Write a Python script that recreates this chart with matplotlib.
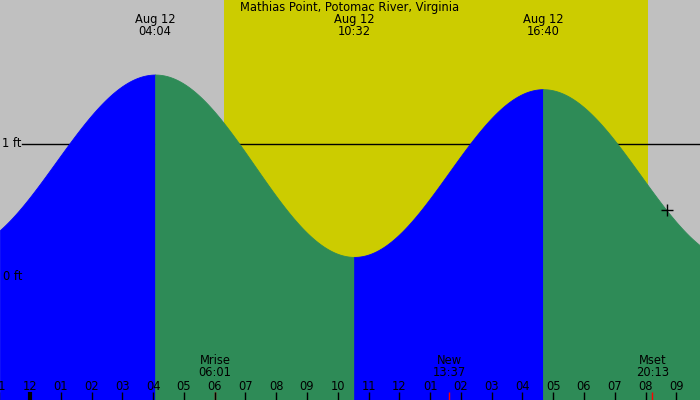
import numpy as np
import matplotlib.pyplot as plt

# tide extremes (hours after midnight Aug 12, feet); first/last are off-chart lows
tide_times = [-2.4, 4.067, 10.533, 16.667, 23.0]
tide_heights = [0.20, 1.52, 0.15, 1.41, 0.12]

sunrise = 6.30
sunset = 20.08

hour_ticks = list(range(-1, 22))
hour_labels = ["11", "12", "01", "02", "03", "04", "05", "06", "07", "08", "09", "10",
               "11", "12", "01", "02", "03", "04", "05", "06", "07", "08", "09"]

tide_labels = ["Aug 12\n04:04", "Aug 12\n10:32", "Aug 12\n16:40"]

moon_times = [6.017, 13.617, 20.217]
moon_labels = ["Mrise\n06:01", "New\n13:37", "Mset\n20:13"]

now_time = 20.7
now_height = 0.50

x0, x1 = -0.975, 21.77
y0, y1 = -0.925, 2.08

fig = plt.figure(figsize=(7, 4), dpi=100)
ax = fig.add_axes([0, 0, 1, 1])
ax.set_xlim(x0, x1)
ax.set_ylim(y0, y1)
ax.axis("off")

ax.axvspan(x0, x1, color="#c0c0c0", lw=0, zorder=0)
ax.axvspan(sunrise, sunset, color="#cccc00", lw=0, zorder=0)

# reference line sits behind the water
ax.axhline(1, xmin=22 / 700, xmax=1, color="black", lw=1, zorder=1)
ax.text(x0 + 2 / 30.77, 1, "1 ft", fontsize=8.3, ha="left", va="center", zorder=1)

# water, one piece per half cycle
for i in range(len(tide_times) - 1):
    ta, tb = tide_times[i], tide_times[i + 1]
    ha, hb = tide_heights[i], tide_heights[i + 1]
    t = np.linspace(max(ta, x0), min(tb, x1), 200)
    h = (ha + hb) / 2 + (ha - hb) / 2 * np.cos(np.pi * (t - ta) / (tb - ta))
    col = "#0000ff" if hb > ha else "#2e8b57"
    ax.fill_between(t, y0, h, facecolor=col, edgecolor=col, lw=0.6, zorder=2)

ax.text(x0 + 3 / 30.77, 0, "0 ft", fontsize=8.3, ha="left", va="center", zorder=3)

trans = ax.get_xaxis_transform()


def px(y):
    return 1 - y / 400


ax.text((x0 + x1) / 2, px(8), "Mathias Point, Potomac River, Virginia",
        fontsize=8.3, ha="center", va="center", transform=trans, zorder=4)

for tt, lab in zip(tide_times[1:4], tide_labels):
    top, bottom = lab.split("\n")
    ax.text(tt, px(19), top, fontsize=8.3, ha="center", va="center", transform=trans, zorder=4)
    ax.text(tt, px(31.5), bottom, fontsize=8.3, ha="center", va="center", transform=trans, zorder=4)

for mt, lab in zip(moon_times, moon_labels):
    top, bottom = lab.split("\n")
    ax.text(mt, px(361), top, fontsize=8.3, ha="center", va="center", transform=trans, zorder=4)
    ax.text(mt, px(373), bottom, fontsize=8.3, ha="center", va="center", transform=trans, zorder=4)
    ax.vlines(mt, 0, 8 / 400, color="red", lw=1, transform=trans, zorder=4)

for ht, lab in zip(hour_ticks, hour_labels):
    ax.text(ht, px(386), lab, fontsize=8.3, ha="center", va="center", transform=trans, zorder=4)
    ax.vlines(ht, 0, 8 / 400, color="black", lw=3 if ht == 0 else 1,
              transform=trans, zorder=4)

ax.plot(now_time, now_height, marker="+", color="black", ms=9, mew=1, zorder=5)

fig.savefig("out.png", dpi=100)
